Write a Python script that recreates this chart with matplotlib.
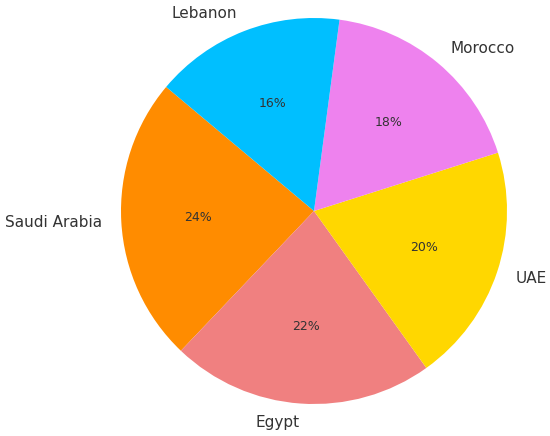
import matplotlib.pyplot as plt

# data
countries = ["Saudi Arabia", "Egypt", "UAE", "Morocco", "Lebanon"]
shares = [24, 22, 20, 18, 16]
colors = ["darkorange", "lightcoral", "gold", "violet", "deepskyblue"]

fig = plt.figure(figsize=(5.5, 4.36), dpi=100)

# pie centre ~ (314, 211) px, radius ~193 px
cx, cy, r = 314, 436 - 211, 193
ax = fig.add_axes([(cx - r) / 550, (cy - r) / 436, 2 * r / 550, 2 * r / 436])

wedges, texts, autotexts = ax.pie(
    shares,
    labels=countries,
    colors=colors,
    autopct="%1.0f%%",
    startangle=140,
    textprops={"color": "#333333"},
)
for t in texts:
    t.set_fontsize(11)
for t in autotexts:
    t.set_fontsize(9)

ax.set_xlim(-1, 1)
ax.set_ylim(-1, 1)
ax.set_aspect("equal")

fig.savefig("out.png", dpi=100)
